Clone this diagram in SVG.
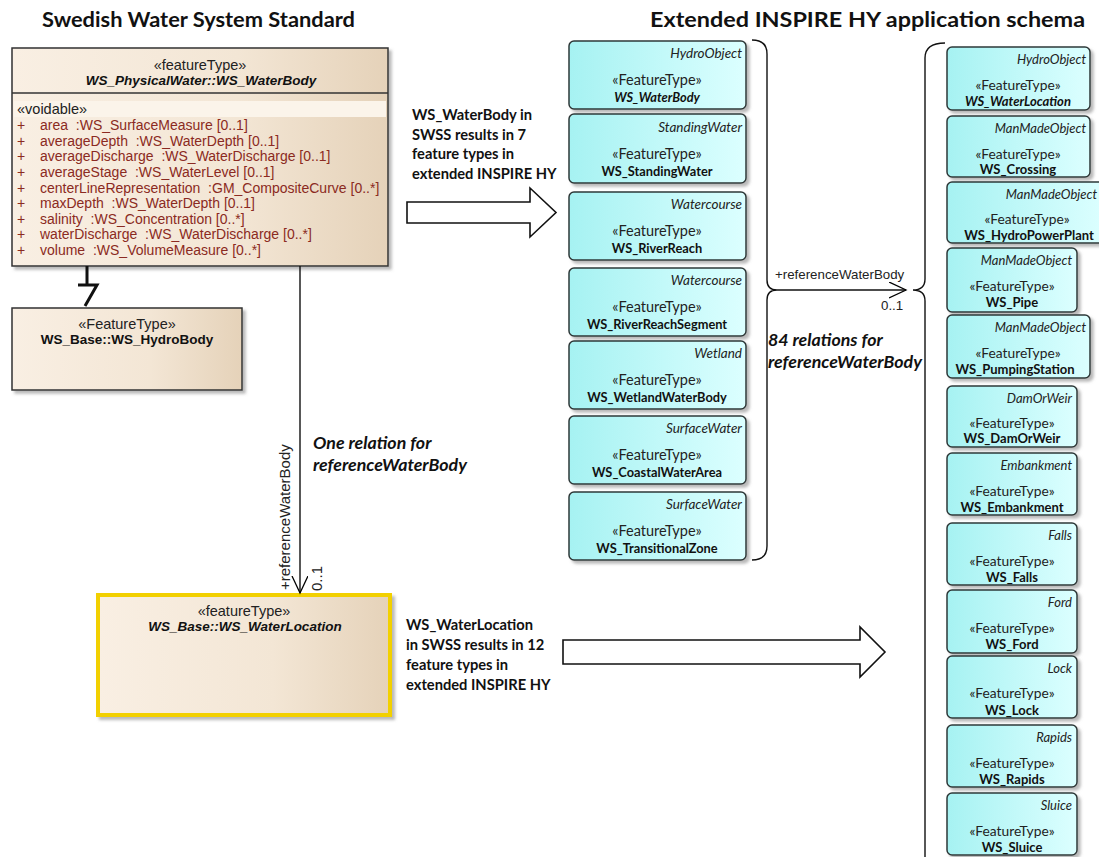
<svg xmlns="http://www.w3.org/2000/svg" width="1099" height="857" viewBox="0 0 1099 857">
  <defs>
    <linearGradient id="beige" x1="0" y1="0" x2="1" y2="0">
      <stop offset="0" stop-color="#f9efe3"/>
      <stop offset="0.6" stop-color="#f3e6d5"/>
      <stop offset="1" stop-color="#e5d2b9"/>
    </linearGradient>
    <linearGradient id="cyan" x1="0" y1="0" x2="1" y2="0">
      <stop offset="0" stop-color="#a6f2f2"/>
      <stop offset="1" stop-color="#dcffff"/>
    </linearGradient>
    <filter id="shadow" x="-5%" y="-5%" width="115%" height="120%">
      <feDropShadow dx="3" dy="3" stdDeviation="1.5" flood-color="#808080" flood-opacity="0.55"/>
    </filter>
    <marker id="openV" markerWidth="20" markerHeight="20" refX="17" refY="8" orient="auto" markerUnits="userSpaceOnUse">
      <path d="M0,0 L17,8 L0,16" fill="none" stroke="#000" stroke-width="1.3"/>
    </marker>
  </defs>
  <style>
    .title { font-family: Lato, "Liberation Sans", sans-serif; font-weight: bold; font-size: 21px; fill: #111; }
    .uml { font-family: "Liberation Sans", Arial, sans-serif; font-size: 14.5px; fill: #222; }
    .umlname { font-family: "Liberation Sans", Arial, sans-serif; font-size: 13.5px; font-weight: bold; fill: #111; }
    .lbl { font-family: "Liberation Sans", Arial, sans-serif; font-size: 13.3px; fill: #222; }
    .vlbl { font-family: "Liberation Sans", Arial, sans-serif; font-size: 15px; fill: #222; }
    .attr { font-family: "Liberation Sans", Arial, sans-serif; font-size: 14px; fill: #8b2a22; }
    .ftbox { fill: url(#cyan); stroke: #2e3838; stroke-width: 1.5; filter: url(#shadow); }
    .cat { font-family: Lato, "Liberation Sans", sans-serif; font-size: 13.5px; font-style: italic; fill: #222; text-anchor: end; }
    .st { font-family: Lato, "Liberation Sans", sans-serif; font-size: 14.5px; fill: #222; text-anchor: middle; }
    .nm { font-family: Lato, "Liberation Sans", sans-serif; font-size: 12.8px; font-weight: bold; fill: #111; text-anchor: middle; }
    .r .cat { font-size: 13px; }
    .r .st { font-size: 13.8px; }
    .r .nm { font-size: 13px; }
    .note { font-family: Lato, "Liberation Sans", sans-serif; font-size: 14.7px; font-weight: bold; fill: #111; }
    .inote { font-family: Lato, "Liberation Sans", sans-serif; font-size: 17.8px; font-weight: bold; font-style: italic; fill: #111; }
    .line { fill: none; stroke: #111; stroke-width: 1.4; }
    .block { fill: #fff; stroke: #111; stroke-width: 1.6; }
  </style>

  <rect width="1099" height="857" fill="#fff"/>

  <!-- headings -->
  <text class="title" x="42" y="27" textLength="313" lengthAdjust="spacingAndGlyphs">Swedish Water System Standard</text>
  <text class="title" x="650" y="27" textLength="435" lengthAdjust="spacingAndGlyphs">Extended INSPIRE HY application schema</text>

  <!-- SWSS classes -->
  <g id="ws-waterbody">
    <rect x="12" y="48" width="376" height="218" fill="url(#beige)" stroke="#333" stroke-width="1.5" filter="url(#shadow)"/>
    <line x1="12" y1="93" x2="388" y2="93" stroke="#333" stroke-width="1.3"/>
    <rect x="14" y="101" width="372" height="16" fill="#fbf4ea"/>
    <text class="uml" x="200" y="70" text-anchor="middle">«featureType»</text>
    <text class="umlname" x="201" y="85" text-anchor="middle" font-style="italic">WS_PhysicalWater::WS_WaterBody</text>
    <text class="uml" x="17" y="114" fill="#3a2a20">«voidable»</text>
    <g class="attr">
      <text x="17" y="130">+</text><text x="40" y="130">area&#160; :WS_SurfaceMeasure [0..1]</text>
      <text x="17" y="146">+</text><text x="40" y="146">averageDepth&#160; :WS_WaterDepth [0..1]</text>
      <text x="17" y="161">+</text><text x="40" y="161">averageDischarge&#160; :WS_WaterDischarge [0..1]</text>
      <text x="17" y="177">+</text><text x="40" y="177">averageStage&#160; :WS_WaterLevel [0..1]</text>
      <text x="17" y="193">+</text><text x="40" y="193">centerLineRepresentation&#160; :GM_CompositeCurve [0..*]</text>
      <text x="17" y="208">+</text><text x="40" y="208">maxDepth&#160; :WS_WaterDepth [0..1]</text>
      <text x="17" y="224">+</text><text x="40" y="224">salinity&#160; :WS_Concentration [0..*]</text>
      <text x="17" y="239">+</text><text x="40" y="239">waterDischarge&#160; :WS_WaterDischarge [0..*]</text>
      <text x="17" y="255">+</text><text x="40" y="255">volume&#160; :WS_VolumeMeasure [0..*]</text>
    </g>
  </g>

  <g id="ws-hydrobody">
    <rect x="12" y="308" width="230" height="82" fill="url(#beige)" stroke="#333" stroke-width="1.5" filter="url(#shadow)"/>
    <text class="uml" x="127" y="329" text-anchor="middle">«FeatureType»</text>
    <text class="umlname" x="127" y="344" text-anchor="middle">WS_Base::WS_HydroBody</text>
  </g>

  <g id="ws-waterlocation">
    <rect x="98" y="595" width="292" height="120" fill="url(#beige)" stroke="#f2d000" stroke-width="4" filter="url(#shadow)"/>
    <text class="uml" x="244" y="616" text-anchor="middle">«featureType»</text>
    <text class="umlname" x="245" y="631" text-anchor="middle" font-style="italic" font-size="14.5">WS_Base::WS_WaterLocation</text>
  </g>

  <!-- INSPIRE HY water bodies -->
  <g id="hy-waterbody-types">
    <g id="hy-wb-waterbody">
      <rect class="ftbox" x="569" y="41" width="177" height="68" rx="5"/>
      <text class="cat" x="742" y="58">HydroObject</text>
      <text class="st" x="657" y="85">«FeatureType»</text>
      <text class="nm" x="657" y="102" font-style="italic">WS_WaterBody</text>
    </g>
    <g id="hy-wb-standingwater">
      <rect class="ftbox" x="569" y="114" width="177" height="69" rx="5"/>
      <text class="cat" x="742" y="132">StandingWater</text>
      <text class="st" x="657" y="159">«FeatureType»</text>
      <text class="nm" x="657" y="176">WS_StandingWater</text>
    </g>
    <g id="hy-wb-riverreach">
      <rect class="ftbox" x="569" y="192" width="177" height="68" rx="5"/>
      <text class="cat" x="742" y="209">Watercourse</text>
      <text class="st" x="657" y="236">«FeatureType»</text>
      <text class="nm" x="657" y="253">WS_RiverReach</text>
    </g>
    <g id="hy-wb-riverreachsegment">
      <rect class="ftbox" x="569" y="268" width="177" height="68" rx="5"/>
      <text class="cat" x="742" y="285">Watercourse</text>
      <text class="st" x="657" y="312">«FeatureType»</text>
      <text class="nm" x="657" y="329">WS_RiverReachSegment</text>
    </g>
    <g id="hy-wb-wetland">
      <rect class="ftbox" x="569" y="341" width="177" height="68" rx="5"/>
      <text class="cat" x="742" y="358">Wetland</text>
      <text class="st" x="657" y="385">«FeatureType»</text>
      <text class="nm" x="657" y="402">WS_WetlandWaterBody</text>
    </g>
    <g id="hy-wb-coastal">
      <rect class="ftbox" x="569" y="416" width="177" height="68" rx="5"/>
      <text class="cat" x="742" y="433">SurfaceWater</text>
      <text class="st" x="657" y="460">«FeatureType»</text>
      <text class="nm" x="657" y="477">WS_CoastalWaterArea</text>
    </g>
    <g id="hy-wb-transitional">
      <rect class="ftbox" x="569" y="492" width="177" height="68" rx="5"/>
      <text class="cat" x="742" y="509">SurfaceWater</text>
      <text class="st" x="657" y="536">«FeatureType»</text>
      <text class="nm" x="657" y="553">WS_TransitionalZone</text>
    </g>
  </g>

  <!-- INSPIRE HY water locations -->
  <g id="hy-waterlocation-types" class="r">
    <g id="hy-wl-waterlocation">
      <rect class="ftbox" x="947" y="47" width="143" height="63" rx="5"/>
      <text class="cat" x="1086" y="64">HydroObject</text>
      <text class="st" x="1018" y="90">«FeatureType»</text>
      <text class="nm" x="1018" y="106" font-style="italic">WS_WaterLocation</text>
    </g>
    <g id="hy-wl-crossing">
      <rect class="ftbox" x="947" y="116" width="143" height="61" rx="5"/>
      <text class="cat" x="1086" y="133">ManMadeObject</text>
      <text class="st" x="1018" y="159">«FeatureType»</text>
      <text class="nm" x="1018" y="174">WS_Crossing</text>
    </g>
    <g id="hy-wl-hydropowerplant">
      <rect class="ftbox" x="947" y="182" width="157" height="61" rx="5"/>
      <text class="cat" x="1097" y="199">ManMadeObject</text>
      <text class="st" x="1027" y="224">«FeatureType»</text>
      <text class="nm" x="1029" y="240">WS_HydroPowerPlant</text>
    </g>
    <g id="hy-wl-pipe">
      <rect class="ftbox" x="947" y="248" width="130" height="64" rx="5"/>
      <text class="cat" x="1072" y="265">ManMadeObject</text>
      <text class="st" x="1012" y="291">«FeatureType»</text>
      <text class="nm" x="1012" y="307">WS_Pipe</text>
    </g>
    <g id="hy-wl-pumpingstation">
      <rect class="ftbox" x="947" y="315" width="143" height="63" rx="5"/>
      <text class="cat" x="1086" y="332">ManMadeObject</text>
      <text class="st" x="1018" y="358">«FeatureType»</text>
      <text class="nm" x="1015" y="374">WS_PumpingStation</text>
    </g>
    <g id="hy-wl-damorweir">
      <rect class="ftbox" x="947" y="386" width="130" height="61" rx="5"/>
      <text class="cat" x="1072" y="403">DamOrWeir</text>
      <text class="st" x="1012" y="428">«FeatureType»</text>
      <text class="nm" x="1012" y="443">WS_DamOrWeir</text>
    </g>
    <g id="hy-wl-embankment">
      <rect class="ftbox" x="947" y="453" width="130" height="62" rx="5"/>
      <text class="cat" x="1072" y="470">Embankment</text>
      <text class="st" x="1012" y="496">«FeatureType»</text>
      <text class="nm" x="1012" y="512">WS_Embankment</text>
    </g>
    <g id="hy-wl-falls">
      <rect class="ftbox" x="947" y="523" width="130" height="62" rx="5"/>
      <text class="cat" x="1072" y="540">Falls</text>
      <text class="st" x="1012" y="566">«FeatureType»</text>
      <text class="nm" x="1012" y="582">WS_Falls</text>
    </g>
    <g id="hy-wl-ford">
      <rect class="ftbox" x="947" y="590" width="130" height="63" rx="5"/>
      <text class="cat" x="1072" y="607">Ford</text>
      <text class="st" x="1012" y="633">«FeatureType»</text>
      <text class="nm" x="1012" y="649">WS_Ford</text>
    </g>
    <g id="hy-wl-lock">
      <rect class="ftbox" x="947" y="656" width="130" height="62" rx="5"/>
      <text class="cat" x="1072" y="673">Lock</text>
      <text class="st" x="1012" y="698">«FeatureType»</text>
      <text class="nm" x="1012" y="715">WS_Lock</text>
    </g>
    <g id="hy-wl-rapids">
      <rect class="ftbox" x="947" y="725" width="130" height="62" rx="5"/>
      <text class="cat" x="1072" y="742">Rapids</text>
      <text class="st" x="1012" y="768">«FeatureType»</text>
      <text class="nm" x="1012" y="784">WS_Rapids</text>
    </g>
    <g id="hy-wl-sluice">
      <rect class="ftbox" x="947" y="793" width="130" height="62" rx="5"/>
      <text class="cat" x="1072" y="810">Sluice</text>
      <text class="st" x="1012" y="836">«FeatureType»</text>
      <text class="nm" x="1012" y="852">WS_Sluice</text>
    </g>
  </g>

  <!-- connectors -->
  <g id="connectors">
    <!-- generalization WS_WaterBody to WS_HydroBody -->
    <path d="M87,266 L87,285 M78,285 L97,285 L85,306" fill="none" stroke="#111" stroke-width="3"/>
    <!-- association WS_WaterBody to WS_WaterLocation -->
    <line class="line" x1="300" y1="266" x2="300" y2="593" marker-end="url(#openV)"/>
    <text class="vlbl" transform="translate(290,590) rotate(-90)">+referenceWaterBody</text>
    <text class="vlbl" transform="translate(322,591) rotate(-90)">0..1</text>

    <!-- braces around the HY groups -->
    <path class="line" d="M752,40 Q767,40 767,54 L767,280 Q767,290 777,290 Q767,290 767,300 L767,546 Q767,560 752,560"/>
    <path class="line" d="M945,43 Q925,43 925,58 L925,279 Q925,290 913,290 Q925,290 925,301 L925,857"/>
    <line class="line" x1="777" y1="290" x2="906" y2="290" marker-end="url(#openV)"/>
    <text class="lbl" x="775" y="279">+referenceWaterBody</text>
    <text class="lbl" x="881" y="310">0..1</text>

    <!-- mapping arrows -->
    <path class="block" d="M407,202 L530,202 L530,188 L556,212.5 L530,237 L530,223 L407,223 Z"/>
    <path class="block" d="M563,640 L860,640 L860,627 L885,652 L860,677 L860,664 L563,664 Z"/>
  </g>

  <!-- annotations -->
  <g id="notes">
    <text class="note" x="412" y="120">WS_WaterBody in</text>
    <text class="note" x="412" y="140">SWSS results in 7</text>
    <text class="note" x="412" y="159">feature types in</text>
    <text class="note" x="412" y="179">extended INSPIRE HY</text>

    <text class="note" x="406" y="630">WS_WaterLocation</text>
    <text class="note" x="406" y="650">in SWSS results in 12</text>
    <text class="note" x="406" y="670">feature types in</text>
    <text class="note" x="406" y="690">extended INSPIRE HY</text>

    <text class="inote" x="313" y="449">One relation for</text>
    <text class="inote" x="313" y="471">referenceWaterBody</text>

    <text class="inote" x="768" y="346">84 relations for</text>
    <text class="inote" x="768" y="368">referenceWaterBody</text>
  </g>
</svg>
